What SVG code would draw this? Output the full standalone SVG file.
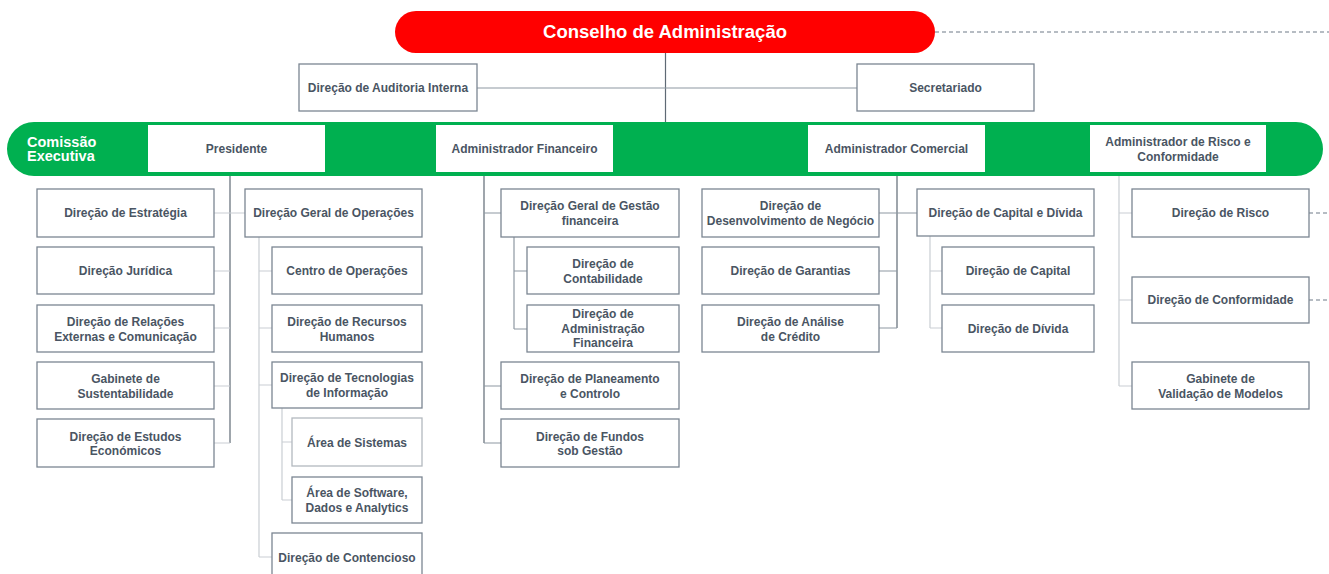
<svg xmlns="http://www.w3.org/2000/svg" width="1329" height="574" viewBox="0 0 1329 574">
<style>
.box{fill:#fff;stroke:#7b8692;stroke-width:1.3}
.lbox{fill:#fff;stroke:#b3b9bf;stroke-width:1.3}
.t{font-family:"Liberation Sans",Arial,sans-serif;font-size:12px;font-weight:bold;fill:#4a5563;text-anchor:middle}
.w{font-family:"Liberation Sans",Arial,sans-serif;font-weight:bold;fill:#fff}
.dk{stroke:#5f6a75;stroke-width:1.2;fill:none}
.md{stroke:#8e98a2;stroke-width:1.2;fill:none}
.lt{stroke:#c9ced3;stroke-width:1.2;fill:none}
.ds{stroke:#6f7b87;stroke-width:1.1;stroke-dasharray:4 3;fill:none}
</style>
<rect width="1329" height="574" fill="#fff"/>
<g id="connectors">
<line class="ds" x1="935" y1="32" x2="1329" y2="32"/>
<line class="dk" x1="665.5" y1="53" x2="665.5" y2="122"/>
<line class="md" x1="477" y1="88" x2="857" y2="88"/>
<line class="dk" x1="230" y1="172" x2="230" y2="443"/>
<path class="lt" d="M214 213H245M214 271H230M214 328H230M214 386H230M214 443H230"/>
<line class="lt" x1="259" y1="237" x2="259" y2="557"/>
<path class="lt" d="M259 271H272M259 328H272M259 385H272M259 557H272"/>
<line class="lt" x1="282" y1="408" x2="282" y2="500"/>
<path class="lt" d="M282 442H292M282 500H292"/>
<line class="dk" x1="484" y1="172" x2="484" y2="443"/>
<path class="md" d="M484 213H501M484 386H501M484 443H501"/>
<line class="md" x1="514" y1="237" x2="514" y2="329"/>
<path class="md" d="M514 271H527M514 329H527"/>
<line class="dk" x1="897" y1="172" x2="897" y2="328"/>
<path class="md" d="M879 213H917M879 271H897M879 328H897"/>
<line class="lt" x1="930" y1="236" x2="930" y2="328"/>
<path class="lt" d="M930 271H942M930 328H942"/>
<line class="lt" x1="1119" y1="172" x2="1119" y2="386"/>
<path class="lt" d="M1119 213H1132M1119 300H1132M1119 386H1132"/>
<path class="ds" d="M1309 213H1329M1309 300H1329"/>
</g>
<g id="conselho">
<rect x="395" y="11" width="540" height="42" rx="21" fill="#ff0000"/>
<text class="w" x="665" y="38" font-size="18.5" text-anchor="middle">Conselho de Administração</text>
</g>
<g id="auditoria"><rect class="box" x="299" y="64" width="178" height="47"/><text class="t" x="388" y="92">Direção de Auditoria Interna</text></g>
<g id="secretariado"><rect class="box" x="857" y="64" width="177" height="47"/><text class="t" x="945.5" y="92">Secretariado</text></g>
<g id="comissao">
<rect x="7" y="122" width="1316" height="54" rx="27" fill="#00b050"/>
<text class="w" x="27" y="147" font-size="14.5">Comissão</text>
<text class="w" x="27" y="161" font-size="14.5">Executiva</text>
</g>
<g id="presidente"><rect x="148" y="125" width="177" height="47" fill="#fff"/><text class="t" x="236.5" y="153">Presidente</text></g>
<g id="adm-financeiro"><rect x="436" y="125" width="177" height="47" fill="#fff"/><text class="t" x="524.5" y="153">Administrador Financeiro</text></g>
<g id="adm-comercial"><rect x="808" y="125" width="177" height="47" fill="#fff"/><text class="t" x="896.5" y="153">Administrador Comercial</text></g>
<g id="adm-risco"><rect x="1090" y="125" width="176" height="47" fill="#fff"/><text class="t" x="1178" y="146">Administrador de Risco e</text><text class="t" x="1178" y="160.5">Conformidade</text></g>

<g id="estrategia"><rect class="box" x="37" y="189" width="177" height="48"/><text class="t" x="125.5" y="217">Direção de Estratégia</text></g>
<g id="juridica"><rect class="box" x="37" y="247" width="177" height="47"/><text class="t" x="125.5" y="275">Direção Jurídica</text></g>
<g id="relacoes"><rect class="box" x="37" y="305" width="177" height="47"/><text class="t" x="125.5" y="326">Direção de Relações</text><text class="t" x="125.5" y="340.5">Externas e Comunicação</text></g>
<g id="sustentabilidade"><rect class="box" x="37" y="362" width="177" height="47"/><text class="t" x="125.5" y="383">Gabinete de</text><text class="t" x="125.5" y="397.5">Sustentabilidade</text></g>
<g id="estudos"><rect class="box" x="37" y="419" width="177" height="48"/><text class="t" x="125.5" y="440.5">Direção de Estudos</text><text class="t" x="125.5" y="455">Económicos</text></g>

<g id="dgo"><rect class="box" x="245" y="189" width="177" height="48"/><text class="t" x="333.5" y="217">Direção Geral de Operações</text></g>
<g id="centro-op"><rect class="box" x="272" y="247" width="150" height="47"/><text class="t" x="347" y="275">Centro de Operações</text></g>
<g id="rh"><rect class="box" x="272" y="305" width="150" height="47"/><text class="t" x="347" y="326">Direção de Recursos</text><text class="t" x="347" y="340.5">Humanos</text></g>
<g id="ti"><rect class="box" x="272" y="362" width="150" height="46"/><text class="t" x="347" y="382">Direção de Tecnologias</text><text class="t" x="347" y="396.5">de Informação</text></g>
<g id="sistemas"><rect class="lbox" x="292" y="418" width="130" height="48"/><text class="t" x="357" y="446.5">Área de Sistemas</text></g>
<g id="software"><rect class="box" x="292" y="477" width="130" height="46"/><text class="t" x="357" y="497">Área de Software,</text><text class="t" x="357" y="511.5">Dados e Analytics</text></g>
<g id="contencioso"><rect class="box" x="272" y="533" width="150" height="50"/><text class="t" x="347" y="562">Direção de Contencioso</text></g>

<g id="dggf"><rect class="box" x="501" y="189" width="178" height="48"/><text class="t" x="590" y="210">Direção Geral de Gestão</text><text class="t" x="590" y="224.5">financeira</text></g>
<g id="contabilidade"><rect class="box" x="527" y="247" width="152" height="47"/><text class="t" x="603" y="268">Direção de</text><text class="t" x="603" y="282.5">Contabilidade</text></g>
<g id="adm-fin"><rect class="box" x="527" y="305" width="152" height="47"/><text class="t" x="603" y="317.5">Direção de</text><text class="t" x="603" y="332.5">Administração</text><text class="t" x="603" y="347">Financeira</text></g>
<g id="planeamento"><rect class="box" x="501" y="362" width="178" height="47"/><text class="t" x="590" y="383">Direção de Planeamento</text><text class="t" x="590" y="397.5">e Controlo</text></g>
<g id="fundos"><rect class="box" x="501" y="419" width="178" height="48"/><text class="t" x="590" y="440.5">Direção de Fundos</text><text class="t" x="590" y="455">sob Gestão</text></g>

<g id="desenvolvimento"><rect class="box" x="702" y="189" width="177" height="48"/><text class="t" x="790.5" y="210">Direção de</text><text class="t" x="790.5" y="224.5">Desenvolvimento de Negócio</text></g>
<g id="garantias"><rect class="box" x="702" y="247" width="177" height="47"/><text class="t" x="790.5" y="275">Direção de Garantias</text></g>
<g id="analise"><rect class="box" x="702" y="305" width="177" height="47"/><text class="t" x="790.5" y="326">Direção de Análise</text><text class="t" x="790.5" y="340.5">de Crédito</text></g>

<g id="capital-divida"><rect class="box" x="917" y="189" width="177" height="47"/><text class="t" x="1005.5" y="217">Direção de Capital e Dívida</text></g>
<g id="capital"><rect class="box" x="942" y="247" width="152" height="47"/><text class="t" x="1018" y="275">Direção de Capital</text></g>
<g id="divida"><rect class="box" x="942" y="305" width="152" height="47"/><text class="t" x="1018" y="333">Direção de Dívida</text></g>

<g id="risco"><rect class="box" x="1132" y="189" width="177" height="48"/><text class="t" x="1220.5" y="217">Direção de Risco</text></g>
<g id="conformidade"><rect class="box" x="1132" y="277" width="177" height="46"/><text class="t" x="1220.5" y="304">Direção de Conformidade</text></g>
<g id="validacao"><rect class="box" x="1132" y="362" width="177" height="47"/><text class="t" x="1220.5" y="383">Gabinete de</text><text class="t" x="1220.5" y="397.5">Validação de Modelos</text></g>
</svg>
